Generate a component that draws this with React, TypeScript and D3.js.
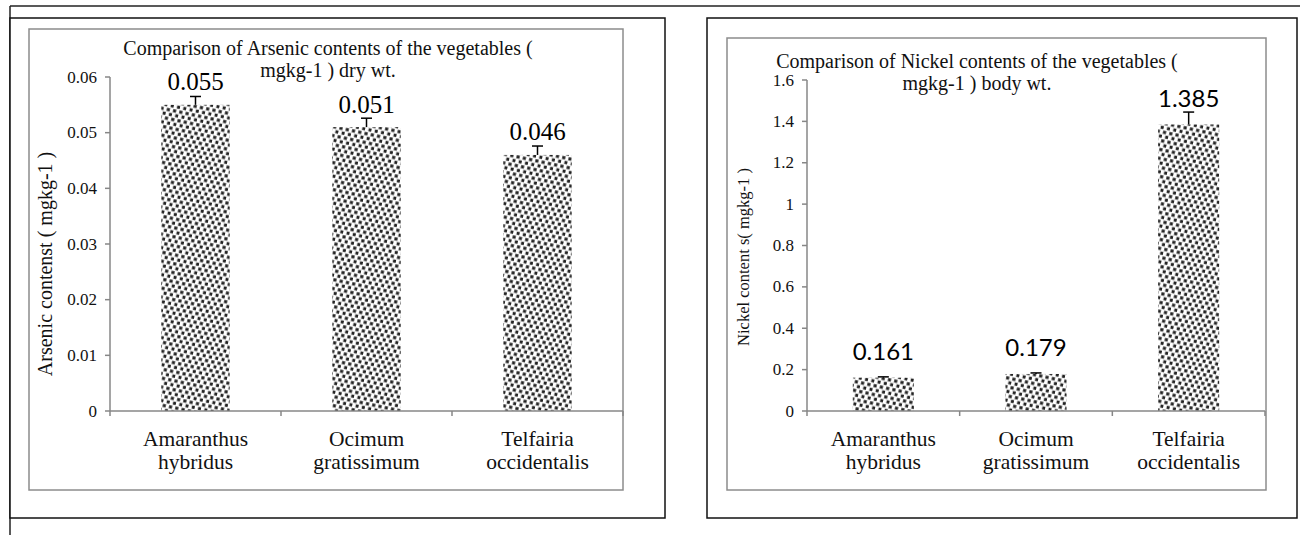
import React from "react";
import * as d3 from "d3";

const categories = ["Amaranthus|hybridus", "Ocimum|gratissimum", "Telfairia|occidentalis"];
const arsenicValues = [0.055, 0.051, 0.046];
const arsenicErrors = [0.0015, 0.0016, 0.0016];
const arsenicLabels = ["0.055", "0.051", "0.046"];
const arsenicTicks = [0, 0.01, 0.02, 0.03, 0.04, 0.05, 0.06];
const nickelValues = [0.161, 0.179, 1.385];
const nickelErrors = [0.004, 0.005, 0.06];
const nickelLabels = ["0.161", "0.179", "1.385"];
const nickelTicks = [0, 0.2, 0.4, 0.6, 0.8, 1, 1.2, 1.4, 1.6];

const SERIF = "Liberation Serif, Times New Roman, serif";
const SANS = "Lato, Open Sans, sans-serif";
const AXIS = "#878787";

type PanelProps = {
  values: number[];
  errors: number[];
  labels: string[];
  ticks: number[];
  yMax: number;
  box: { x: number; y: number; w: number; h: number };
  plot: { x0: number; x1: number; y0: number; y1: number };
  title: string[];
  titleX: number;
  titleY: number[];
  yLabel: string;
  yLabelX: number;
  yLabelY: number;
  yLabelSize: number;
  tickSize: number;
  labelFont: string;
  labelSize: number;
  labelOffset: number;
};

function Panel(p: PanelProps) {
  const x = d3.scaleBand<string>().domain(categories).range([p.plot.x0, p.plot.x1]).paddingInner(0.6).paddingOuter(0.3);
  const y = d3.scaleLinear().domain([0, p.yMax]).range([p.plot.y1, p.plot.y0]);
  const bounds = d3.range(categories.length + 1).map((i) => p.plot.x0 + i * (p.plot.x1 - p.plot.x0) / categories.length);
  return (
    <g>
      <rect x={p.box.x} y={p.box.y} width={p.box.w} height={p.box.h} fill="white" stroke="#8c8c8c" strokeWidth={1.5} />
      {p.title.map((t, i) => (
        <text key={i} x={p.titleX} y={p.titleY[i]} textAnchor="middle" dominantBaseline="central" fontFamily={SERIF} fontSize={20} fill="#111">{t}</text>
      ))}
      <text transform={`translate(${p.yLabelX},${p.yLabelY}) rotate(-90)`} textAnchor="middle" dominantBaseline="central" fontFamily={SERIF} fontSize={p.yLabelSize} fill="#111">{p.yLabel}</text>
      {p.ticks.map((t, i) => (
        <g key={i}>
          <line x1={p.plot.x0 - 5} x2={p.plot.x0} y1={y(t)} y2={y(t)} stroke={AXIS} strokeWidth={1.5} />
          <text x={p.plot.x0 - 13} y={y(t)} textAnchor="end" dominantBaseline="central" fontFamily={SERIF} fontSize={p.tickSize} fill="#111">{String(t)}</text>
        </g>
      ))}
      {categories.map((c, i) => {
        const bx = x(c)!;
        const bw = x.bandwidth();
        const top = y(p.values[i]);
        const cx = bx + bw / 2;
        const ey = y(p.values[i] + p.errors[i]);
        return (
          <g key={c}>
            <rect x={bx} y={top} width={bw} height={p.plot.y1 - top} fill="url(#dots)" />
            <line x1={cx} x2={cx} y1={top} y2={ey} stroke="#000" strokeWidth={1.5} />
            <line x1={cx - 5.5} x2={cx + 5.5} y1={ey} y2={ey} stroke="#000" strokeWidth={1.5} />
            <text x={cx} y={top - p.labelOffset} textAnchor="middle" dominantBaseline="central" fontFamily={p.labelFont} fontSize={p.labelSize} fill="#000">{p.labels[i]}</text>
            {c.split("|").map((w, j) => (
              <text key={j} x={cx} y={439 + j * 22.5} textAnchor="middle" dominantBaseline="central" fontFamily={SERIF} fontSize={21.5} fill="#111">{w}</text>
            ))}
          </g>
        );
      })}
      <line x1={p.plot.x0} x2={p.plot.x0} y1={p.plot.y0} y2={p.plot.y1} stroke={AXIS} strokeWidth={1.5} />
      <line x1={p.plot.x0} x2={p.plot.x1} y1={p.plot.y1} y2={p.plot.y1} stroke={AXIS} strokeWidth={1.5} />
      {bounds.map((b, i) => (
        <line key={i} x1={b} x2={b} y1={p.plot.y1} y2={p.plot.y1 + 5} stroke={AXIS} strokeWidth={1.5} />
      ))}
    </g>
  );
}

export default function App() {
  return (
    <svg width={1300} height={535} style={{ position: "absolute", left: 0, top: 0, background: "white" }}>
      <defs>
        <pattern id="dots" width={6.4} height={8.8} patternUnits="userSpaceOnUse" patternTransform="rotate(12)">
          <rect width={6.4} height={8.8} fill="#ffffff" />
          <rect x={0} y={0} width={3.6} height={3.6} fill="#a8a8a8" />
          <rect x={3.2} y={4.4} width={3.6} height={3.6} fill="#a8a8a8" />
          <rect x={0.4} y={0.4} width={2.8} height={2.8} fill="#222222" />
          <rect x={3.6} y={4.8} width={2.8} height={2.8} fill="#222222" />
        </pattern>
      </defs>
      <line x1={10} x2={1300} y1={6} y2={6} stroke="#222" strokeWidth={1.5} />
      <line x1={10} x2={10} y1={6} y2={535} stroke="#222" strokeWidth={1.5} />
      <rect x={10} y={18} width={655} height={500} fill="white" stroke="#111" strokeWidth={1.5} />
      <rect x={707} y={18} width={590} height={500} fill="white" stroke="#111" strokeWidth={1.5} />
      <Panel
        values={arsenicValues}
        errors={arsenicErrors}
        labels={arsenicLabels}
        ticks={arsenicTicks}
        yMax={0.06}
        box={{ x: 29, y: 29, w: 594, h: 461 }}
        plot={{ x0: 110, x1: 623, y0: 77, y1: 411 }}
        title={["Comparison of Arsenic contents of the vegetables (", "mgkg-1 ) dry wt."]}
        titleX={328}
        titleY={[48, 70]}
        yLabel="Arsenic contenst ( mgkg-1 )"
        yLabelX={45}
        yLabelY={264}
        yLabelSize={20}
        tickSize={17}
        labelFont={SERIF}
        labelSize={25}
        labelOffset={23}
      />
      <Panel
        values={nickelValues}
        errors={nickelErrors}
        labels={nickelLabels}
        ticks={nickelTicks}
        yMax={1.6}
        box={{ x: 727, y: 38, w: 539, h: 452 }}
        plot={{ x0: 807, x1: 1265, y0: 80, y1: 411 }}
        title={["Comparison of Nickel contents of the vegetables (", "mgkg-1 ) body wt."]}
        titleX={977}
        titleY={[61, 83]}
        yLabel="Nickel content s( mgkg-1 )"
        yLabelX={743}
        yLabelY={257}
        yLabelSize={16.5}
        tickSize={17}
        labelFont={SANS}
        labelSize={24}
        labelOffset={27}
      />
    </svg>
  );
}
